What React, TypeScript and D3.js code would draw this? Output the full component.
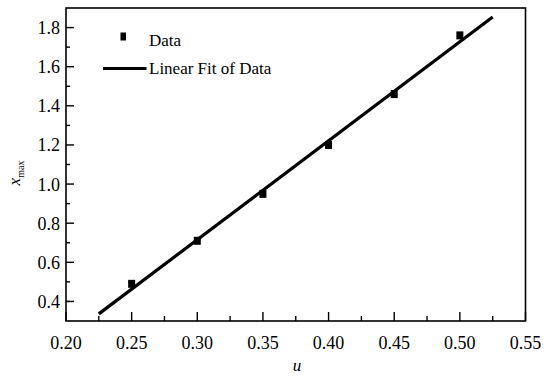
import { useEffect, useRef } from "react";
import * as d3 from "d3";

// values
const uValues = [0.25, 0.3, 0.35, 0.4, 0.45, 0.5];
const xmaxValues = [0.49, 0.71, 0.95, 1.2, 1.46, 1.76];
const xTicks = [0.2, 0.25, 0.3, 0.35, 0.4, 0.45, 0.5, 0.55];
const yTicks = [0.4, 0.6, 0.8, 1.0, 1.2, 1.4, 1.6, 1.8];
const fitRange = [0.225, 0.525];
const legendLabels = ["Data", "Linear Fit of Data"];

const W = 558;
const H = 376;
const FONT = "Liberation Serif, DejaVu Serif, serif";

export default function App() {
  const ref = useRef<SVGSVGElement>(null);

  useEffect(() => {
    if (!ref.current) return;
    const svg = d3.select(ref.current);
    svg.selectAll("*").remove();

    const left = 66;
    const right = 525.5;
    const top = 8;
    const bottom = 321;

    const x = d3.scaleLinear().domain([0.2, 0.55]).range([left, right]);
    const y = d3.scaleLinear().domain([0.3, 1.9]).range([bottom, top]);

    svg.append("rect").attr("width", W).attr("height", H).attr("fill", "#fff");

    // least squares fit
    const mx = d3.mean(uValues)!;
    const my = d3.mean(xmaxValues)!;
    const sxy = d3.sum(uValues, (u, i) => (u - mx) * (xmaxValues[i] - my));
    const sxx = d3.sum(uValues, (u) => (u - mx) ** 2);
    const slope = sxy / sxx;
    const icpt = my - slope * mx;

    const line = d3
      .line<number>()
      .x((d) => x(d))
      .y((d) => y(slope * d + icpt));

    svg
      .append("path")
      .attr("d", line(fitRange))
      .attr("fill", "none")
      .attr("stroke", "#000")
      .attr("stroke-width", 3.2);

    svg
      .append("g")
      .selectAll("rect")
      .data(uValues)
      .join("rect")
      .attr("x", (d) => x(d) - 3.5)
      .attr("y", (_, i) => y(xmaxValues[i]) - 4)
      .attr("width", 7)
      .attr("height", 8)
      .attr("fill", "#000");

    // frame
    svg
      .append("rect")
      .attr("x", left)
      .attr("y", top)
      .attr("width", right - left)
      .attr("height", bottom - top)
      .attr("fill", "none")
      .attr("stroke", "#000")
      .attr("stroke-width", 1.6);

    // x ticks (inward)
    const xMinor = d3.range(0, xTicks.length - 1).map((i) => (xTicks[i] + xTicks[i + 1]) / 2);
    const gx = svg.append("g");
    gx.selectAll("line.maj")
      .data(xTicks)
      .join("line")
      .attr("x1", (d) => x(d))
      .attr("x2", (d) => x(d))
      .attr("y1", bottom)
      .attr("y2", bottom - 9)
      .attr("stroke", "#000")
      .attr("stroke-width", 1.4);
    gx.selectAll("line.min")
      .data(xMinor)
      .join("line")
      .attr("x1", (d) => x(d))
      .attr("x2", (d) => x(d))
      .attr("y1", bottom)
      .attr("y2", bottom - 5)
      .attr("stroke", "#000")
      .attr("stroke-width", 1.4);
    gx.selectAll("text")
      .data(xTicks)
      .join("text")
      .attr("x", (d) => x(d))
      .attr("y", 349)
      .attr("text-anchor", "middle")
      .style("font-family", FONT)
      .attr("font-size", 18)
      .text((d) => d.toFixed(2));

    // y ticks
    const yMinor = [0.3, ...yTicks].map((d) => d + 0.1).filter((d) => d < 1.9);
    const gy = svg.append("g");
    gy.selectAll("line.maj")
      .data(yTicks)
      .join("line")
      .attr("x1", left)
      .attr("x2", left + 8)
      .attr("y1", (d) => y(d))
      .attr("y2", (d) => y(d))
      .attr("stroke", "#000")
      .attr("stroke-width", 1.4);
    gy.selectAll("line.min")
      .data(yMinor)
      .join("line")
      .attr("x1", left)
      .attr("x2", left + 4)
      .attr("y1", (d) => y(d))
      .attr("y2", (d) => y(d))
      .attr("stroke", "#000")
      .attr("stroke-width", 1.4);
    gy.selectAll("text")
      .data(yTicks)
      .join("text")
      .attr("x", 60)
      .attr("y", (d) => y(d) + 6.5)
      .attr("text-anchor", "end")
      .style("font-family", FONT)
      .attr("font-size", 18)
      .text((d) => d.toFixed(1));

    // axis titles
    const yt = svg
      .append("text")
      .attr("transform", `translate(20,173) rotate(-90)`)
      .attr("text-anchor", "middle")
      .style("font-family", FONT)
      .attr("font-size", 17);
    yt.append("tspan").attr("font-style", "italic").text("x");
    yt.append("tspan").attr("font-size", 10).attr("dy", 4).text("max");

    svg
      .append("text")
      .attr("x", 297)
      .attr("y", 371)
      .attr("text-anchor", "middle")
      .style("font-family", FONT)
      .attr("font-style", "italic")
      .attr("font-size", 17)
      .text("u");

    // legend
    svg
      .append("rect")
      .attr("x", 120.5)
      .attr("y", 32.5)
      .attr("width", 5.5)
      .attr("height", 8)
      .attr("fill", "#000");
    svg
      .append("line")
      .attr("x1", 103)
      .attr("x2", 146.5)
      .attr("y1", 68.5)
      .attr("y2", 68.5)
      .attr("stroke", "#000")
      .attr("stroke-width", 3.2);
    svg
      .append("g")
      .selectAll("text")
      .data(legendLabels)
      .join("text")
      .attr("x", 149)
      .attr("y", (_, i) => 46 + i * 28)
      .style("font-family", FONT)
      .attr("font-size", 17)
      .text((d) => d);
  }, []);

  return (
    <svg
      ref={ref}
      width={W}
      height={H}
      style={{ position: "absolute", left: 0, top: 0, display: "block" }}
    />
  );
}
